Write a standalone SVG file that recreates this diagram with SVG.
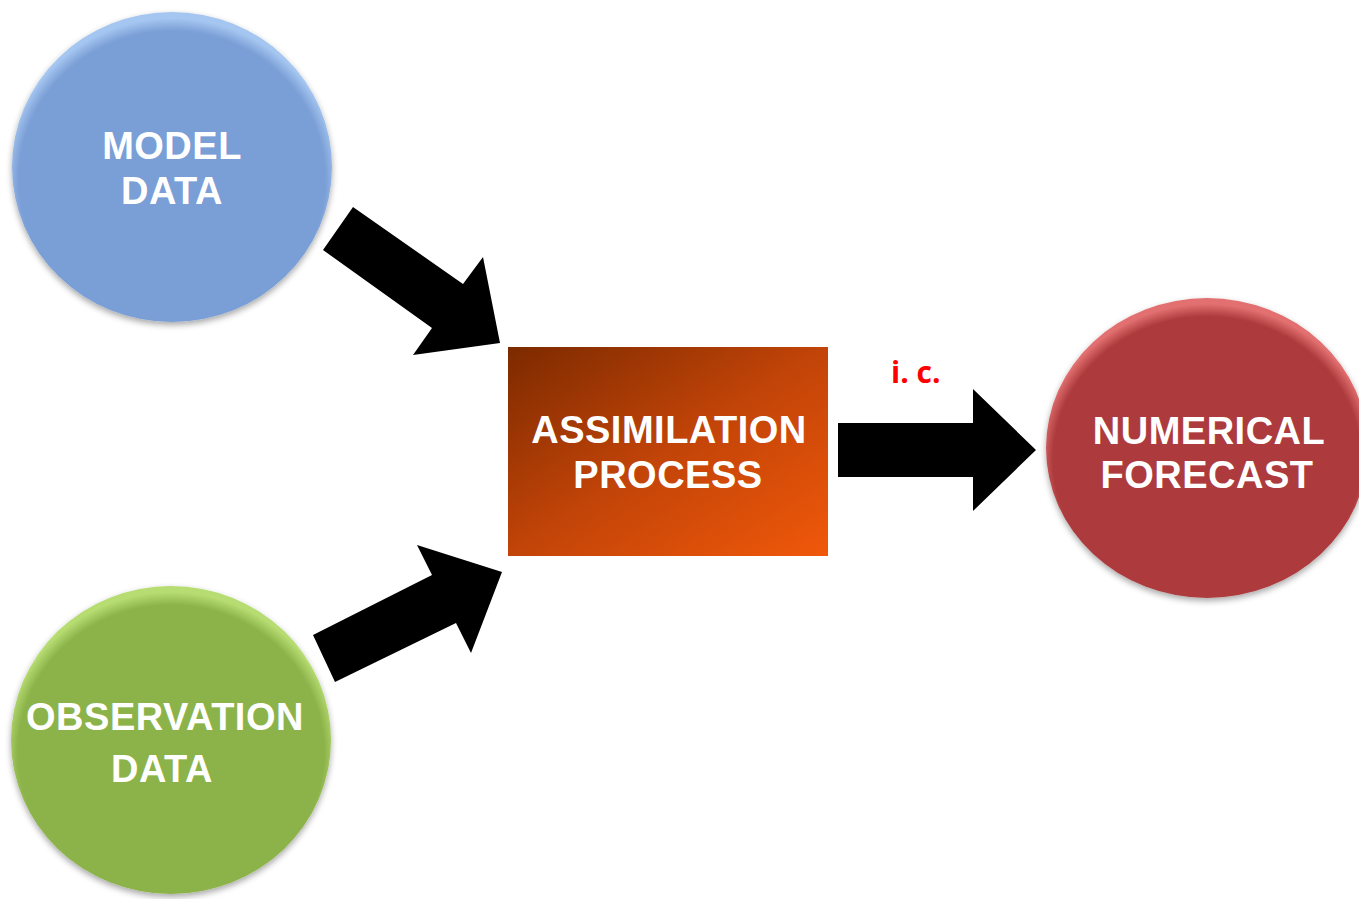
<svg xmlns="http://www.w3.org/2000/svg" width="1359" height="899" viewBox="0 0 1359 899">
<style>
.lbl{font-family:"Liberation Sans",Arial,sans-serif;font-weight:bold;font-size:38px;letter-spacing:0.5px;fill:#ffffff;text-anchor:middle}
.ic{font-family:"Open Sans","Liberation Sans",sans-serif;font-weight:bold;font-size:30px;fill:#ff0000}
.arr{fill:#000000}
</style>
<defs>
<filter id="sh" x="-20%" y="-20%" width="140%" height="140%">
<feDropShadow dx="0" dy="3" stdDeviation="3" flood-color="#000" flood-opacity="0.35"/>
</filter>
<radialGradient id="gBlue" cx="50%" cy="54%" r="52%">
<stop offset="0" stop-color="#7a9ed6"/>
<stop offset="0.92" stop-color="#7a9ed6"/>
<stop offset="1" stop-color="#a5c6f0"/>
</radialGradient>
<radialGradient id="gGreen" cx="50%" cy="54%" r="52%">
<stop offset="0" stop-color="#8cb34a"/>
<stop offset="0.92" stop-color="#8cb34a"/>
<stop offset="1" stop-color="#b6dc72"/>
</radialGradient>
<radialGradient id="gRed" cx="50%" cy="54%" r="52%">
<stop offset="0" stop-color="#ad3b3d"/>
<stop offset="0.92" stop-color="#ad3b3d"/>
<stop offset="1" stop-color="#e27070"/>
</radialGradient>
<linearGradient id="gBox" x1="0" y1="0" x2="1" y2="1">
<stop offset="0" stop-color="#7c2a00"/>
<stop offset="0.5" stop-color="#c24408"/>
<stop offset="1" stop-color="#f0580a"/>
</linearGradient>
</defs>
<rect width="1359" height="899" fill="#ffffff"/>
<g id="connectors">
<polygon class="arr" points="353,207 323,250 432,328 413,355 500,343 483,257 463,284"/>
<polygon class="arr" points="335,682 313,635 432,575 417,545 502,572 471,653 456,623"/>
<polygon class="arr" points="838,423 973,423 973,389 1036,450 973,511 973,477 838,477"/>
<text class="ic" x="891" y="383">i. c.</text>
</g>
<g id="model-data">
<ellipse cx="172" cy="167" rx="160" ry="155" fill="url(#gBlue)" filter="url(#sh)"/>
<text class="lbl" x="172" y="159">MODEL</text>
<text class="lbl" x="172" y="204">DATA</text>
</g>
<g id="observation-data">
<ellipse cx="171" cy="740" rx="160" ry="154" fill="url(#gGreen)" filter="url(#sh)"/>
<text class="lbl" x="165" y="730">OBSERVATION</text>
<text class="lbl" x="162" y="782">DATA</text>
</g>
<g id="assimilation-process">
<rect x="508" y="347" width="320" height="209" fill="url(#gBox)"/>
<text class="lbl" x="669" y="443">ASSIMILATION</text>
<text class="lbl" x="668" y="488">PROCESS</text>
</g>
<g id="numerical-forecast">
<ellipse cx="1207" cy="448" rx="161" ry="150" fill="url(#gRed)" filter="url(#sh)"/>
<text class="lbl" x="1209" y="444">NUMERICAL</text>
<text class="lbl" x="1207" y="488">FORECAST</text>
</g>
</svg>
